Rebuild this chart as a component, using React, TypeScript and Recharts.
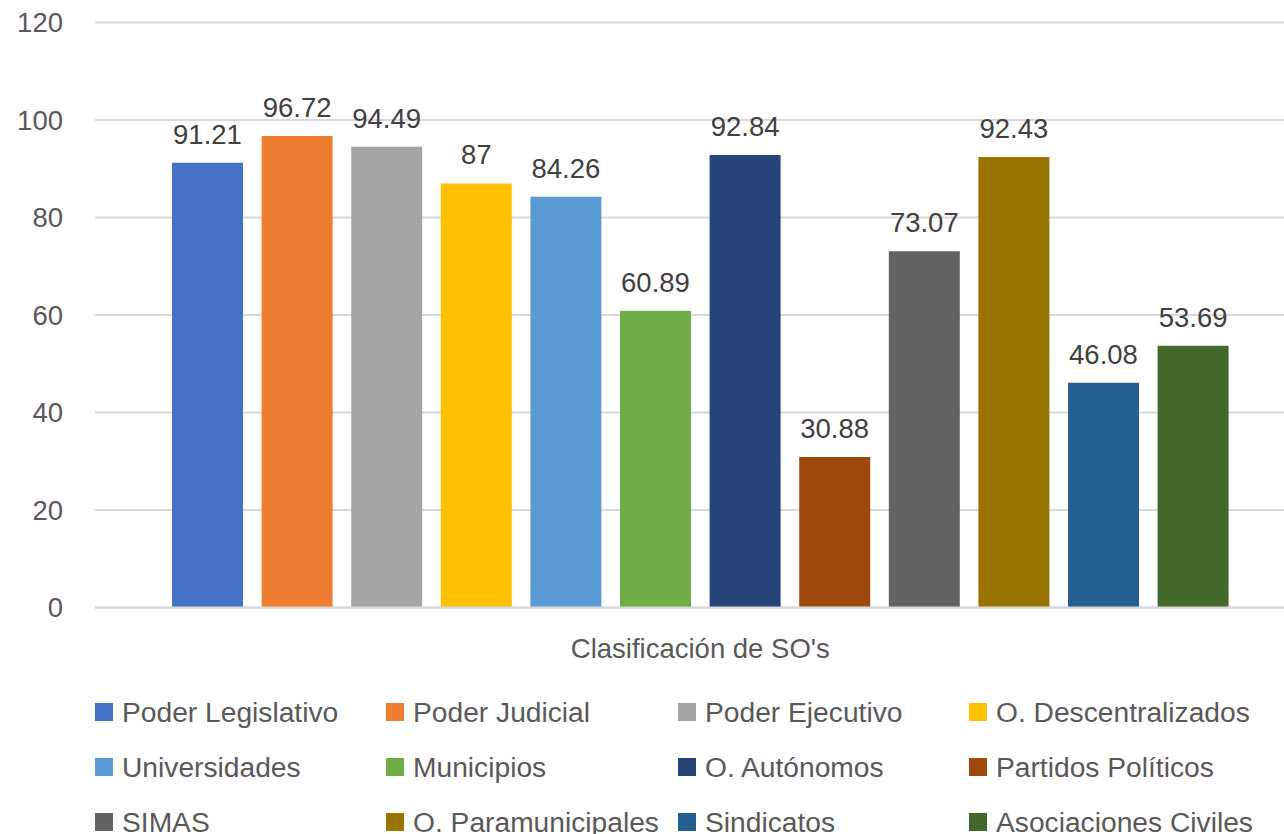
import React from "react";
import { BarChart, Bar, XAxis, YAxis, CartesianGrid, LabelList } from "recharts";

const categoryLabel = "Clasificación de SO's";
const seriesNames = [
  "Poder Legislativo",
  "Poder Judicial",
  "Poder Ejecutivo",
  "O. Descentralizados",
  "Universidades",
  "Municipios",
  "O. Autónomos",
  "Partidos Políticos",
  "SIMAS",
  "O. Paramunicipales",
  "Sindicatos",
  "Asociaciones Civiles",
];
const seriesValues = [91.21, 96.72, 94.49, 87, 84.26, 60.89, 92.84, 30.88, 73.07, 92.43, 46.08, 53.69];
const seriesColors = [
  "#4472C4",
  "#ED7D31",
  "#A5A5A5",
  "#FFC000",
  "#5B9BD5",
  "#70AD47",
  "#264478",
  "#9E480E",
  "#636363",
  "#997300",
  "#255E91",
  "#43682B",
];
const yTicks = [0, 20, 40, 60, 80, 100, 120];

const FONT = '"Liberation Sans", Arial, sans-serif';
const FS = 27.5;
const LEGEND_FS = 28.2;

const dataRow: Record<string, any> = { name: categoryLabel };
seriesValues.forEach((v, i) => {
  dataRow["s" + i] = v;
});
const data = [dataRow];

const legendCols = [95, 386, 678, 969];
const legendRows = [703, 758, 813];

const renderValueLabel = (props: any) => {
  const { x, y, width, value } = props;
  return (
    <text
      x={x + width / 2}
      y={y - 19}
      textAnchor="middle"
      fill="#404040"
      fontSize={FS}
      fontFamily={FONT}
    >
      {value}
    </text>
  );
};

const renderAxisTitle = (props: any) => {
  const vb = props.viewBox || {};
  return (
    <text
      x={vb.x + vb.width / 2}
      y={vb.y + 50.5}
      textAnchor="middle"
      fill="#595959"
      fontSize={FS}
      fontFamily={FONT}
    >
      {categoryLabel}
    </text>
  );
};

export default function App() {
  return (
    <div
      style={{
        position: "absolute",
        left: 0,
        top: 0,
        width: 1284,
        height: 834,
        overflow: "hidden",
        background: "#ffffff",
        fontFamily: FONT,
      }}
    >
      <BarChart
        width={1330}
        height={834}
        data={data}
        margin={{ top: 22.5, right: 24.4, bottom: 0, left: 0 }}
        barSize={71}
        barGap={18.6}
      >
        <CartesianGrid vertical={false} stroke="#d9d9d9" strokeWidth={2} />
        <XAxis
          dataKey="name"
          tick={false}
          tickLine={false}
          axisLine={{ stroke: "#d9d9d9", strokeWidth: 2 }}
          height={226.5}
          label={renderAxisTitle}
        />
        <YAxis
          domain={[0, 120]}
          ticks={yTicks}
          width={95}
          axisLine={false}
          tickLine={false}
          tickSize={0}
          tickMargin={32}
          tick={{ fill: "#595959", fontSize: FS, fontFamily: FONT }}
          interval={0}
        />
        {seriesNames.map((name, i) => (
          <Bar
            key={name}
            dataKey={"s" + i}
            name={name}
            fill={seriesColors[i]}
            isAnimationActive={false}
          >
            <LabelList dataKey={"s" + i} content={renderValueLabel} />
          </Bar>
        ))}
      </BarChart>
      {seriesNames.map((name, i) => {
        const col = i % 4;
        const row = Math.floor(i / 4);
        return (
          <div
            key={name}
            style={{
              position: "absolute",
              left: legendCols[col],
              top: legendRows[row] - 10,
              height: 38,
              display: "flex",
              alignItems: "center",
              whiteSpace: "nowrap",
            }}
          >
            <div
              style={{
                width: 18,
                height: 18,
                background: seriesColors[i],
                marginRight: 9,
                flex: "none",
              }}
            />
            <span style={{ color: "#595959", fontSize: LEGEND_FS, fontFamily: FONT, lineHeight: 1 }}>
              {name}
            </span>
          </div>
        );
      })}
    </div>
  );
}
